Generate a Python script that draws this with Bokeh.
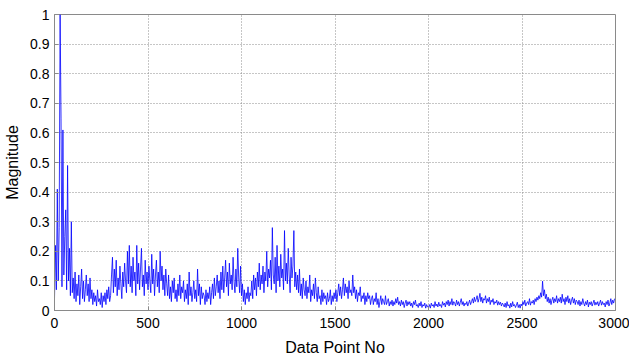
import numpy as np
from bokeh.plotting import figure
from bokeh.models import Range1d, FixedTicker
from bokeh.embed import file_html
from bokeh.resources import INLINE

mag_0000 = [0.04, 0.22, 0.07, 0.41, 0.10, 0.28, 1.00, 0.65, 0.08, 0.61, 0.12, 0.25, 0.34, 0.07, 0.49, 0.10, 0.21, 0.05, 0.30, 0.06]
mag_0100 = [0.11, 0.04, 0.13, 0.03, 0.09, 0.05, 0.12, 0.02, 0.08, 0.14, 0.04, 0.10, 0.03, 0.07, 0.12, 0.05, 0.09, 0.03, 0.11, 0.04]
mag_0200 = [0.07, 0.02, 0.06, 0.03, 0.05, 0.015, 0.07, 0.03, 0.04, 0.02, 0.06, 0.01, 0.05, 0.03, 0.06, 0.02, 0.07, 0.04, 0.08, 0.03]
mag_0300 = [0.05, 0.12, 0.18, 0.06, 0.14, 0.08, 0.17, 0.05, 0.11, 0.07, 0.15, 0.09, 0.04, 0.13, 0.08, 0.16, 0.10, 0.06, 0.20, 0.09]
mag_0400 = [0.22, 0.08, 0.15, 0.06, 0.18, 0.10, 0.13, 0.05, 0.22, 0.09, 0.16, 0.07, 0.14, 0.21, 0.08, 0.12, 0.05, 0.17, 0.09, 0.13]
mag_0500 = [0.07, 0.15, 0.10, 0.06, 0.19, 0.09, 0.14, 0.05, 0.12, 0.17, 0.08, 0.13, 0.06, 0.20, 0.10, 0.15, 0.07, 0.12, 0.05, 0.14]
mag_0600 = [0.09, 0.05, 0.12, 0.04, 0.08, 0.03, 0.10, 0.06, 0.11, 0.04, 0.07, 0.03, 0.09, 0.05, 0.12, 0.04, 0.08, 0.06, 0.10, 0.03]
mag_0700 = [0.07, 0.04, 0.09, 0.02, 0.13, 0.05, 0.08, 0.03, 0.06, 0.10, 0.04, 0.07, 0.03, 0.14, 0.05, 0.09, 0.02, 0.08, 0.04, 0.06]
mag_0800 = [0.05, 0.02, 0.07, 0.03, 0.06, 0.04, 0.08, 0.02, 0.06, 0.09, 0.04, 0.11, 0.05, 0.08, 0.12, 0.06, 0.10, 0.04, 0.13, 0.07]
mag_0900 = [0.15, 0.06, 0.11, 0.17, 0.08, 0.13, 0.05, 0.16, 0.09, 0.12, 0.07, 0.18, 0.10, 0.06, 0.14, 0.08, 0.21, 0.11, 0.06, 0.15]
mag_1000 = [0.05, 0.09, 0.03, 0.07, 0.02, 0.06, 0.04, 0.08, 0.03, 0.06, 0.05, 0.10, 0.04, 0.12, 0.07, 0.11, 0.05, 0.13, 0.08, 0.16]
mag_1100 = [0.07, 0.12, 0.09, 0.15, 0.06, 0.13, 0.10, 0.20, 0.08, 0.14, 0.11, 0.17, 0.07, 0.28, 0.12, 0.09, 0.18, 0.06, 0.22, 0.10]
mag_1200 = [0.15, 0.08, 0.19, 0.11, 0.14, 0.07, 0.27, 0.10, 0.16, 0.09, 0.21, 0.12, 0.06, 0.18, 0.11, 0.15, 0.27, 0.08, 0.13, 0.07]
mag_1300 = [0.12, 0.06, 0.14, 0.05, 0.09, 0.04, 0.11, 0.07, 0.05, 0.10, 0.04, 0.08, 0.06, 0.12, 0.03, 0.07, 0.05, 0.09, 0.04, 0.11]
mag_1400 = [0.06, 0.03, 0.08, 0.04, 0.05, 0.02, 0.07, 0.03, 0.06, 0.04, 0.05, 0.02, 0.06, 0.03, 0.04, 0.07, 0.02, 0.05, 0.03, 0.06]
mag_1500 = [0.04, 0.07, 0.03, 0.06, 0.09, 0.05, 0.08, 0.04, 0.07, 0.11, 0.05, 0.09, 0.06, 0.08, 0.04, 0.10, 0.06, 0.07, 0.05, 0.12]
mag_1600 = [0.06, 0.08, 0.04, 0.07, 0.03, 0.06, 0.05, 0.08, 0.03, 0.05, 0.04, 0.06, 0.02, 0.05, 0.03, 0.06, 0.04, 0.05, 0.02, 0.04]
mag_1700 = [0.05, 0.02, 0.04, 0.03, 0.06, 0.02, 0.04, 0.01, 0.03, 0.05, 0.02, 0.04, 0.03, 0.02, 0.05, 0.02, 0.03, 0.04, 0.015, 0.03]
mag_1800 = [0.02, 0.035, 0.015, 0.03, 0.02, 0.04, 0.025, 0.045, 0.02, 0.03, 0.015, 0.035, 0.02, 0.03, 0.01, 0.025, 0.035, 0.015, 0.03, 0.02]
mag_1900 = [0.03, 0.015, 0.025, 0.01, 0.03, 0.02, 0.035, 0.015, 0.02, 0.01, 0.025, 0.015, 0.03, 0.01, 0.02, 0.015, 0.025, 0.008, 0.02, 0.012]
mag_2000 = [0.01, 0.02, 0.008, 0.025, 0.015, 0.02, 0.01, 0.03, 0.015, 0.022, 0.012, 0.028, 0.015, 0.02, 0.01, 0.03, 0.018, 0.025, 0.012, 0.03]
mag_2100 = [0.02, 0.035, 0.015, 0.03, 0.02, 0.04, 0.018, 0.03, 0.025, 0.015, 0.035, 0.02, 0.03, 0.015, 0.028, 0.04, 0.02, 0.03, 0.015, 0.025]
mag_2200 = [0.02, 0.03, 0.015, 0.025, 0.035, 0.02, 0.03, 0.04, 0.025, 0.045, 0.03, 0.038, 0.05, 0.028, 0.04, 0.058, 0.03, 0.045, 0.025, 0.04]
mag_2300 = [0.035, 0.05, 0.025, 0.04, 0.03, 0.045, 0.02, 0.035, 0.028, 0.04, 0.02, 0.03, 0.025, 0.035, 0.018, 0.03, 0.02, 0.028, 0.015, 0.025]
mag_2400 = [0.02, 0.012, 0.025, 0.01, 0.03, 0.015, 0.02, 0.008, 0.025, 0.012, 0.03, 0.015, 0.02, 0.01, 0.018, 0.028, 0.01, 0.02, 0.008, 0.022]
mag_2500 = [0.015, 0.03, 0.02, 0.035, 0.015, 0.025, 0.03, 0.02, 0.04, 0.018, 0.03, 0.025, 0.035, 0.02, 0.04, 0.03, 0.045, 0.035, 0.05, 0.04]
mag_2600 = [0.06, 0.045, 0.099, 0.05, 0.07, 0.04, 0.055, 0.03, 0.045, 0.025, 0.04, 0.02, 0.035, 0.045, 0.025, 0.04, 0.03, 0.05, 0.025, 0.04]
mag_2700 = [0.03, 0.045, 0.025, 0.055, 0.03, 0.04, 0.02, 0.045, 0.03, 0.05, 0.025, 0.04, 0.02, 0.035, 0.045, 0.025, 0.04, 0.02, 0.035, 0.03]
mag_2800 = [0.02, 0.035, 0.015, 0.03, 0.02, 0.04, 0.025, 0.015, 0.03, 0.02, 0.035, 0.012, 0.028, 0.02, 0.03, 0.015, 0.025, 0.035, 0.018, 0.028]
mag_2900 = [0.02, 0.03, 0.015, 0.025, 0.035, 0.018, 0.03, 0.02, 0.025, 0.012, 0.03, 0.02, 0.035, 0.015, 0.025, 0.04, 0.02, 0.035, 0.025, 0.04]

step = 5
x_ticks = [0, 500, 1000, 1500, 2000, 2500, 3000]
y_ticks = [0, 0.1, 0.2, 0.3, 0.4, 0.5, 0.6, 0.7, 0.8, 0.9, 1.0]
y_tick_labels = ["0", "0.1", "0.2", "0.3", "0.4", "0.5", "0.6", "0.7", "0.8", "0.9", "1"]

magnitude = (mag_0000 + mag_0100 + mag_0200 + mag_0300 + mag_0400 + mag_0500 +
             mag_0600 + mag_0700 + mag_0800 + mag_0900 + mag_1000 + mag_1100 +
             mag_1200 + mag_1300 + mag_1400 + mag_1500 + mag_1600 + mag_1700 +
             mag_1800 + mag_1900 + mag_2000 + mag_2100 + mag_2200 + mag_2300 +
             mag_2400 + mag_2500 + mag_2600 + mag_2700 + mag_2800 + mag_2900)
point_no = np.arange(len(magnitude)) * step

FONT = "Liberation Sans"
GRID = "#8c8c8c"
FRAME = "#8a8a8a"

p = figure(frame_width=561, frame_height=296, output_backend="svg", toolbar_location=None,
           x_range=Range1d(0, 3000), y_range=Range1d(0, 1),
           min_border_left=54, min_border_right=14, min_border_top=14, min_border_bottom=46)
p.background_fill_color = "white"
p.border_fill_color = "white"
p.outline_line_color = FRAME
p.outline_line_width = 1

p.line(point_no, magnitude, line_color="#0000ff", line_width=0.8)

p.xaxis.ticker = FixedTicker(ticks=x_ticks)
p.yaxis.ticker = FixedTicker(ticks=y_ticks)
p.yaxis.major_label_overrides = {t: l for t, l in zip(y_ticks, y_tick_labels)}
p.xaxis.axis_label = "Data Point No"
p.yaxis.axis_label = "Magnitude"

for ax in (p.xaxis[0], p.yaxis[0]):
    ax.axis_line_color = FRAME
    ax.major_tick_line_color = FRAME
    ax.major_tick_in = 4
    ax.major_tick_out = 0
    ax.minor_tick_line_color = None
    ax.major_label_text_font = FONT
    ax.major_label_text_font_size = "14px"
    ax.major_label_text_color = "#000000"
    ax.axis_label_text_font = FONT
    ax.axis_label_text_font_size = "16px"
    ax.axis_label_text_font_style = "normal"
    ax.axis_label_text_color = "#000000"
    ax.major_label_standoff = 5
    ax.axis_label_standoff = 6

p.xaxis[0].major_label_standoff = 7
p.xaxis[0].axis_label_standoff = 8

p.grid.grid_line_color = GRID
p.grid.grid_line_dash = "1 2"
p.grid.grid_line_width = 1

open("out.html", "w").write(file_html(p, INLINE))
